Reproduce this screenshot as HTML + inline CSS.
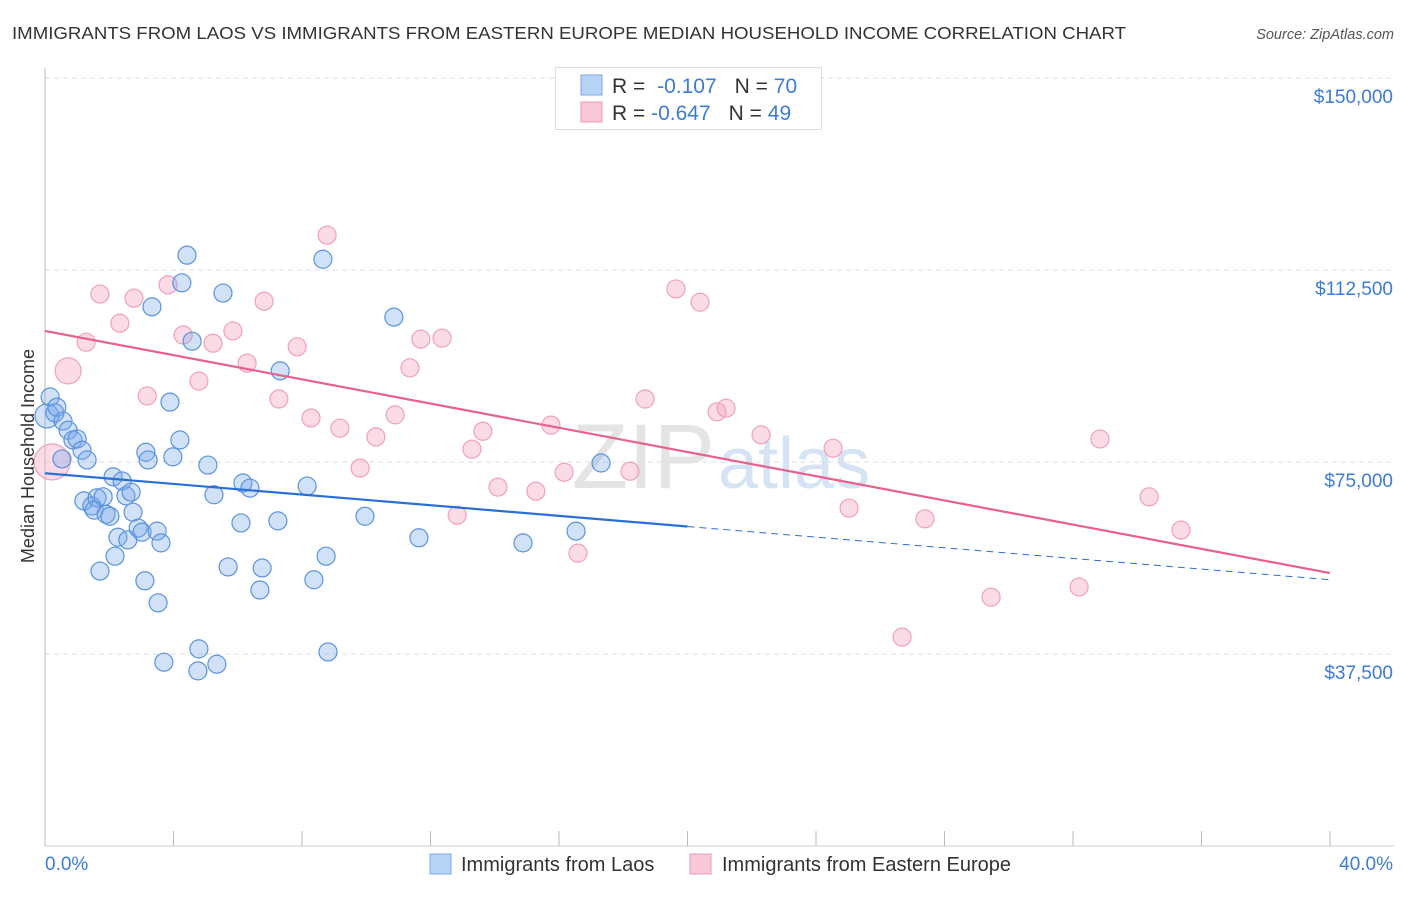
<!DOCTYPE html>
<html><head><meta charset="utf-8"><style>
body{margin:0;background:#fff;font-family:"Liberation Sans",sans-serif;}
svg text{font-family:"Liberation Sans",sans-serif;}
</style></head><body>
<svg id="chart" width="1406" height="892" xmlns="http://www.w3.org/2000/svg">
<text x="12" y="39" font-size="17.5" fill="#333" textLength="1114" lengthAdjust="spacingAndGlyphs">IMMIGRANTS FROM LAOS VS IMMIGRANTS FROM EASTERN EUROPE MEDIAN HOUSEHOLD INCOME CORRELATION CHART</text>
<text x="1394" y="39" font-size="14.5" fill="#555" font-style="italic" text-anchor="end">Source: ZipAtlas.com</text>
<text x="715" y="488" font-size="92" fill="#e4e4e4" text-anchor="end" font-family="Liberation Serif">ZIP</text>
<text x="718" y="488" font-size="72" fill="#d6e3f5">atlas</text>
<g id="grid"></g><g id="pts"></g><g id="trends"></g>
<text transform="translate(34,456) rotate(-90)" font-size="18" fill="#333" text-anchor="middle">Median Household Income</text>
<text x="45" y="870" font-size="19" fill="#3d7bd8">0.0%</text>
<text x="1393" y="870" font-size="19" fill="#3d7bd8" text-anchor="end">40.0%</text>
<g>
<rect x="555.5" y="67.5" width="266" height="62" fill="#fff" stroke="#ddd"/>
<rect x="581" y="75" width="21" height="20" fill="#b7d3f5" stroke="#7aa7e6"/>
<rect x="581" y="102" width="21" height="20" fill="#fbc8d8" stroke="#ef98b5"/>
<text x="612" y="93" font-size="21" fill="#333">R = <tspan fill="#3d7bd8" dx="6">-0.107</tspan><tspan dx="18" fill="#333">N = </tspan><tspan fill="#3d7bd8">70</tspan></text>
<text x="612" y="120" font-size="21" fill="#333">R = <tspan fill="#3d7bd8">-0.647</tspan><tspan dx="18" fill="#333">N = </tspan><tspan fill="#3d7bd8">49</tspan></text>
</g>
<g>
<rect x="430" y="854" width="21" height="20" fill="#b7d3f5" stroke="#7aa7e6"/>
<text x="461" y="871" font-size="20" fill="#333">Immigrants from Laos</text>
<rect x="690" y="854" width="21" height="20" fill="#fbc8d8" stroke="#ef98b5"/>
<text x="722" y="871" font-size="20" fill="#333">Immigrants from Eastern Europe</text>
</g>
</svg>
<script>
const yTicks=[37500,75000,112500,150000];
const yTickLabels=["$37,500","$75,000","$112,500","$150,000"];
const xTicks=[0,4,8,12,16,20,24,28,32,36,40];
const laosX=[0.06,0.16,0.31,0.37,0.56,0.72,0.87,1.0,1.15,1.31,0.53,1.21,1.46,1.62,1.81,1.53,1.90,2.02,2.12,2.40,2.52,2.68,2.74,2.27,2.58,2.90,3.02,3.49,3.61,2.18,1.71,3.11,3.52,3.14,3.21,3.98,4.20,3.89,4.58,4.42,4.26,3.33,5.54,5.07,5.26,6.10,5.70,6.16,6.38,6.76,6.69,7.25,7.32,8.16,8.65,8.37,8.75,9.96,10.86,11.64,8.81,3.70,4.79,4.76,5.35,14.88,16.53,17.31];
const laosY=[84.0,87.7,84.6,85.7,83.0,81.2,79.3,79.5,77.3,75.4,75.6,67.4,66.4,68.0,68.2,65.6,64.8,64.4,72.1,71.3,68.4,69.1,65.2,60.3,59.8,62.1,61.3,61.5,59.2,56.6,53.7,51.8,47.5,76.9,75.4,76.0,79.3,86.7,98.6,115.4,110.0,105.3,108.0,74.4,68.6,63.1,54.5,70.9,69.9,54.3,50.0,63.5,92.8,70.3,114.6,52.0,56.6,64.4,103.3,60.2,37.9,35.9,38.5,34.2,35.5,59.2,61.5,74.8];
const laosR=[12,9,9,9,9,9,9,9,9,9,9,9,9,9,9,9,9,9,9,9,9,9,9,9,9,9,9,9,9,9,9,9,9,9,9,9,9,9,9,9,9,9,9,9,9,9,9,9,9,9,9,9,9,9,9,9,9,9,9,9,9,9,9,9,9,9,9,9];
const eeX=[0.22,0.72,1.28,1.71,2.33,2.77,3.18,3.83,4.30,4.79,5.23,5.85,6.29,6.82,7.28,7.85,8.28,8.78,9.18,9.81,10.30,10.90,11.36,11.70,12.36,12.83,13.29,13.63,14.10,15.28,15.75,16.16,16.59,18.21,18.68,19.64,20.39,20.92,21.20,22.29,24.53,25.03,27.39,29.45,32.19,32.84,34.37,35.36,26.68];
const eeY=[75.0,92.8,98.4,107.8,102.1,107.0,87.9,109.6,99.8,90.8,98.2,100.6,94.3,106.4,87.3,97.5,83.6,119.3,81.6,73.8,79.9,84.2,93.4,99.0,99.2,64.6,77.5,81.0,70.1,69.3,82.2,73.0,57.2,73.2,87.3,108.8,106.2,84.8,85.5,80.3,77.7,66.0,63.9,48.6,50.6,79.5,68.2,61.7,40.8];
const eeR=[18,13,9,9,9,9,9,9,9,9,9,9,9,9,9,9,9,9,9,9,9,9,9,9,9,9,9,9,9,9,9,9,9,9,9,9,9,9,9,9,9,9,9,9,9,9,9,9,9];
const laosTrend=[72.8,52.0];
const eeTrend=[100.6,53.3];
const laosSolidEnd=20;
const NS="http://www.w3.org/2000/svg";
const X0=45,X1=1330,Y0=846;
function sx(p){return X0+(p/40)*(X1-X0);}
function sy(v){return Y0-v*192/37500;}
function mk(tag,attrs,parent){const e=document.createElementNS(NS,tag);for(const k in attrs)e.setAttribute(k,attrs[k]);parent.appendChild(e);return e;}
const grid=document.getElementById('grid');
yTicks.forEach((t,i)=>{
  const l=mk('line',{x1:X0,x2:1394,y1:sy(t),y2:sy(t),stroke:'#ddd','stroke-dasharray':'5,4'},grid);
  
  
  const tx=mk('text',{x:1393,y:sy(t)+25,'font-size':19,fill:'#3d7bd8','text-anchor':'end'},grid);
  tx.textContent=yTickLabels[i];
  
  
});
const ax=mk('line',{x1:X0,x2:X0,y1:68,y2:Y0,stroke:'#bbb'},grid);


const bx=mk('line',{x1:X0,x2:1394,y1:Y0,y2:Y0,stroke:'#ccc'},grid);


xTicks.forEach(t=>{
  const l=mk('line',{x1:sx(t),x2:sx(t),y1:831,y2:Y0,stroke:'#bbb'},grid);
  
  
});
const pts=document.getElementById('pts');
eeX.forEach((x,i)=>{
  const c=mk('circle',{cx:sx(x),cy:sy(eeY[i]*1000),r:eeR[i],fill:'rgba(244,160,188,0.38)',stroke:'#f0a0bc','stroke-width':1.2},pts);
  
  
});
laosX.forEach((x,i)=>{
  const c=mk('circle',{cx:sx(x),cy:sy(laosY[i]*1000),r:laosR[i],fill:'rgba(120,170,235,0.35)',stroke:'#5b93dd','stroke-width':1.2},pts);
  
  
});
const tr=document.getElementById('trends');
function ly(a,p){return a[0]+(a[1]-a[0])*p/40;}
const t1=mk('line',{x1:sx(0),y1:sy(laosTrend[0]*1000),x2:sx(laosSolidEnd),y2:sy(ly(laosTrend,laosSolidEnd)*1000),stroke:'#2a6fd6','stroke-width':2.2},tr);


const t2=mk('line',{x1:sx(laosSolidEnd),y1:sy(ly(laosTrend,laosSolidEnd)*1000),x2:sx(40),y2:sy(laosTrend[1]*1000),stroke:'#2a6fd6','stroke-width':1,'stroke-dasharray':'7,5'},tr);


const t3=mk('line',{x1:sx(0),y1:sy(eeTrend[0]*1000),x2:sx(40),y2:sy(eeTrend[1]*1000),stroke:'#e8608c','stroke-width':2.2},tr);


</script>
</body></html>
